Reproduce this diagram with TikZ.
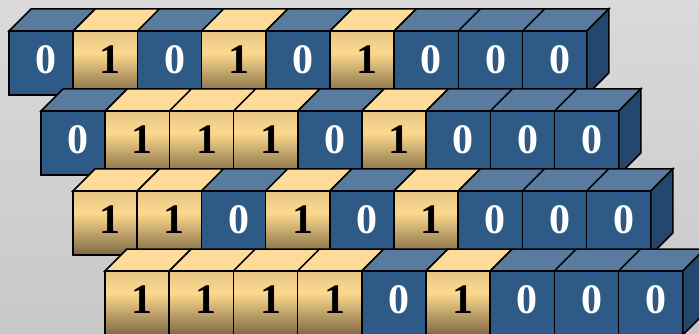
\documentclass[tikz,border=0pt]{standalone}
\usepackage{fontspec}
\setmainfont{Liberation Serif}
\definecolor{bgtop}{HTML}{DADADA}
\definecolor{bgbot}{HTML}{C8C8C8}
\definecolor{bfront}{HTML}{2D5A87}
\definecolor{btop}{HTML}{587B9F}
\definecolor{bside}{HTML}{24476E}
\definecolor{ytopface}{HTML}{FEDB98}
\definecolor{yfronttop}{HTML}{E6C585}
\definecolor{yfrontmid}{HTML}{FDD98F}
\definecolor{yfrontbot}{HTML}{7E6843}
\pgfdeclareverticalshading{yfront}{100bp}{color(0bp)=(yfrontbot); color(25bp)=(yfrontbot); color(58bp)=(yfrontmid); color(75bp)=(yfronttop); color(100bp)=(yfronttop)}
\tikzset{
  face/.style={draw=black,line width=1.5pt,line join=miter},
  bit0front/.style={face,fill=bfront},
  bit1front/.style={face,shading=yfront},
  bit0top/.style={face,fill=btop},
  bit1top/.style={face,fill=ytopface},
  bit0side/.style={face,fill=bside},
  bit1side/.style={face,fill=bside},
  bit0txt/.style={text=white,font=\fontsize{42}{42}\selectfont\bfseries,inner sep=0pt},
  bit1txt/.style={text=black,font=\fontsize{42}{42}\selectfont\bfseries,inner sep=0pt},
}
\begin{document}
\begin{tikzpicture}[x=1pt,y=-1pt]
\useasboundingbox (0,0) rectangle (699,334);
\shade[top color=bgtop,bottom color=bgbot] (0,0) rectangle (699,334);
\begin{scope}
\clip (0,0) rectangle (699,334);
\foreach \r/\bits in {0/{0,1,0,1,0,1,0,0,0},1/{0,1,1,1,0,1,0,0,0},2/{1,1,0,1,0,1,0,0,0},3/{1,1,1,1,0,1,0,0,0}}{
  \foreach \b [count=\c from 0] in \bits {
    \pgfmathsetmacro{\X}{9+32*\r+64.2*\c}
    \pgfmathsetmacro{\Y}{31+80*\r}
    \path[bit\b top] (\X,\Y) -- ++(22,-22) -- ++(64.2,0) -- ++(-22,22) -- cycle;
    \path[bit\b front] (\X,\Y) rectangle ++(64.2,64);
    \ifnum\c=8
      \path[bit\b side] (\X+64.2,\Y) -- ++(22,-22) -- ++(0,64) -- ++(-22,22) -- cycle;
    \fi
    \node[bit\b txt] (d-\r-\c) at (\X+32.1+5,\Y+32-3.5) {\b};
  }
}
\end{scope}
\end{tikzpicture}
\end{document}
